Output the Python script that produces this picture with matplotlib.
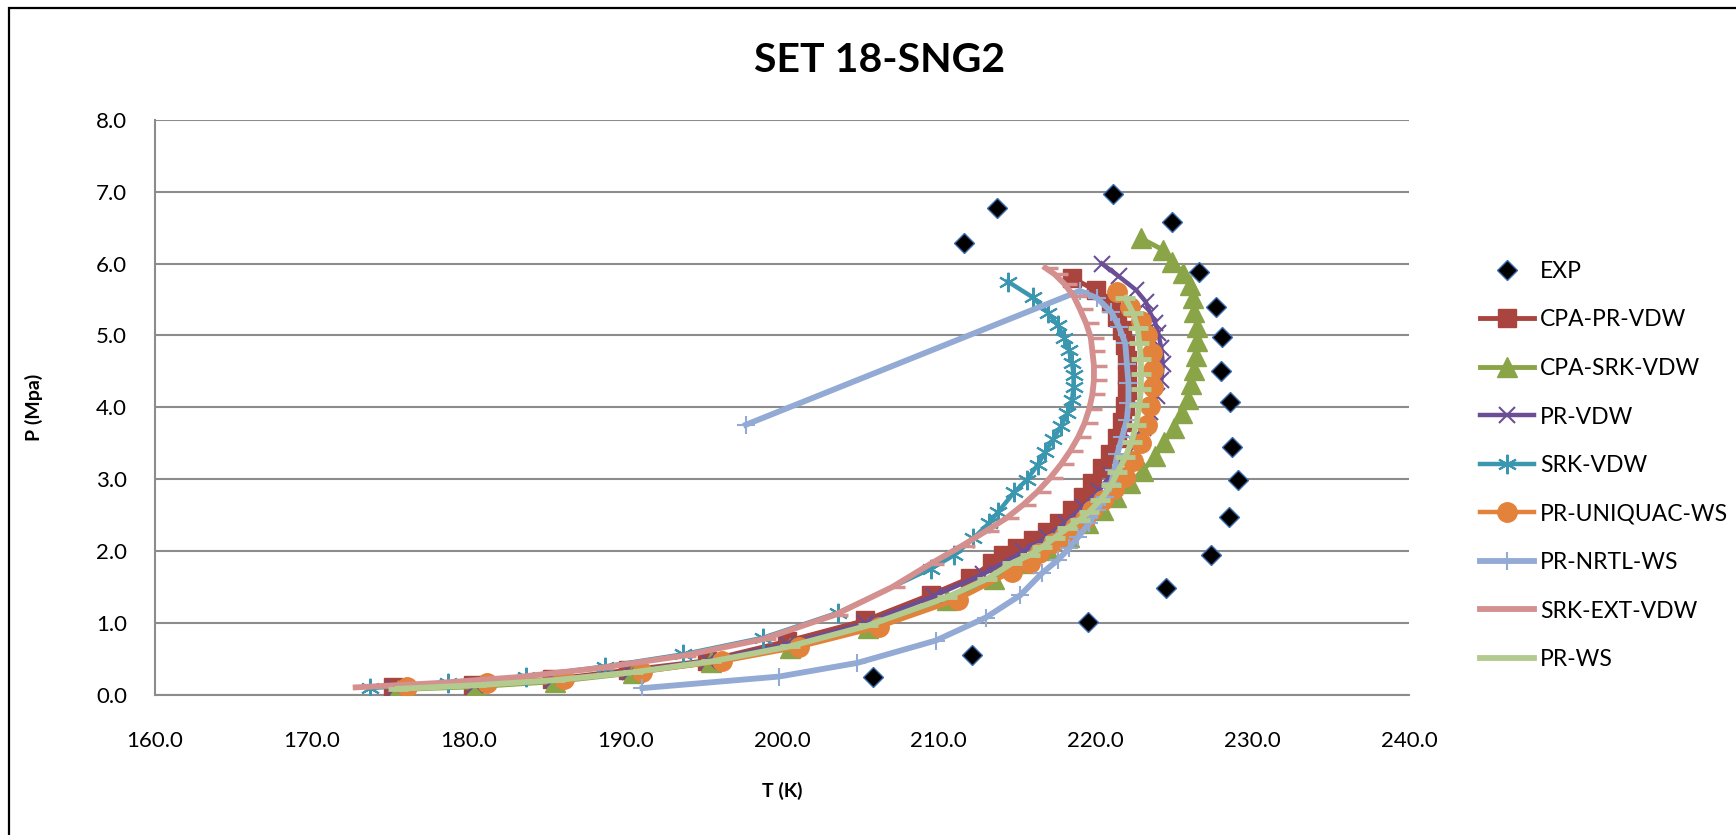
import matplotlib.pyplot as plt
from matplotlib.patches import Rectangle
from matplotlib.ticker import MultipleLocator, FormatStrFormatter

# --- DATA (T in K, P in MPa) ---
exp_T = [205.8, 212.1, 219.5, 224.5, 227.4, 228.5, 229.1, 228.7, 228.6, 228.0, 228.1, 227.7, 226.6, 224.9, 221.1, 213.7, 211.6]
exp_P = [0.25, 0.56, 1.02, 1.49, 1.95, 2.48, 2.99, 3.45, 4.07, 4.50, 4.98, 5.40, 5.88, 6.58, 6.97, 6.77, 6.28]

cpa_pr_T = [175.2, 180.3, 185.3, 190.2, 195.2, 200.3, 205.3, 209.5, 212.0, 213.4, 214.1, 215.0, 216.0, 216.9, 217.7,
            218.5, 219.2, 219.8, 220.4, 220.9, 221.4, 221.7, 221.9, 222.0, 222.0, 222.0, 221.9, 221.7, 221.4, 221.0,
            220.0, 218.5]
cpa_pr_P = [0.11, 0.15, 0.22, 0.35, 0.48, 0.75, 1.04, 1.40, 1.63, 1.84, 1.95, 2.05, 2.16, 2.27, 2.40,
            2.57, 2.76, 2.95, 3.16, 3.36, 3.58, 3.80, 4.02, 4.24, 4.45, 4.66, 4.87, 5.08, 5.26, 5.45,
            5.63, 5.80]

cpa_srk_T = [175.5, 180.5, 185.5, 190.5, 195.5, 200.5, 205.5, 210.5, 213.5, 215.5, 217.0, 218.3, 219.5, 220.5,
             221.3, 222.2, 223.0, 223.8, 224.4, 225.0, 225.5, 225.9, 226.1, 226.3, 226.4, 226.5, 226.5, 226.3,
             226.2, 226.0, 225.6, 224.9, 224.3, 222.9]
cpa_srk_P = [0.08, 0.12, 0.19, 0.31, 0.46, 0.66, 0.93, 1.32, 1.62, 1.84, 2.02, 2.20, 2.40, 2.58,
             2.76, 2.95, 3.12, 3.32, 3.52, 3.72, 3.92, 4.12, 4.32, 4.52, 4.72, 4.92, 5.12, 5.32,
             5.52, 5.70, 5.87, 6.02, 6.19, 6.35]

pr_vdw_T = [175.3, 180.4, 185.4, 190.3, 195.3, 200.3, 205.3, 209.7, 212.8, 215.4, 216.9, 218.1, 219.2, 220.2,
            221.0, 221.8, 222.5, 223.0, 223.5, 223.9, 224.2, 224.3, 224.2, 224.0, 223.8, 223.5, 223.2, 222.6,
            221.5, 220.4]
pr_vdw_P = [0.10, 0.14, 0.21, 0.33, 0.48, 0.71, 1.00, 1.38, 1.68, 2.00, 2.20, 2.40, 2.62, 2.84,
            3.06, 3.28, 3.50, 3.72, 3.94, 4.16, 4.38, 4.60, 4.82, 5.04, 5.18, 5.31, 5.47, 5.63,
            5.82, 6.00]

srk_vdw_T = [173.7, 178.7, 183.7, 188.7, 193.7, 198.8, 203.6, 209.5, 211.0, 212.2, 213.2, 213.8, 214.8, 215.6,
             216.3, 216.8, 217.3, 217.8, 218.2, 218.5, 218.6, 218.6, 218.5, 218.3, 218.0, 217.6, 217.0, 216.0,
             214.4]
srk_vdw_P = [0.10, 0.17, 0.26, 0.40, 0.57, 0.80, 1.15, 1.76, 1.95, 2.18, 2.39, 2.55, 2.82, 2.99,
             3.20, 3.38, 3.56, 3.74, 3.92, 4.10, 4.28, 4.45, 4.62, 4.80, 4.97, 5.14, 5.31, 5.53,
             5.75]

uniquac_T = [176.1, 181.2, 186.1, 191.1, 196.2, 201.1, 206.2, 211.2, 214.7, 215.8, 216.4, 217.3, 218.0, 218.7,
             219.3, 219.8, 220.5, 221.2, 221.9, 222.4, 222.9, 223.3, 223.5, 223.7, 223.7, 223.6, 223.3, 222.9,
             222.2, 221.4]
uniquac_P = [0.12, 0.17, 0.23, 0.33, 0.47, 0.67, 0.95, 1.33, 1.72, 1.84, 1.98, 2.12, 2.22, 2.34,
             2.45, 2.57, 2.71, 2.86, 3.04, 3.26, 3.50, 3.76, 4.02, 4.28, 4.52, 4.76, 5.00, 5.20,
             5.40, 5.60]

nrtl_T = [191.1, 199.8, 204.8, 209.8, 213.0, 215.2, 216.6, 217.6, 218.3, 218.9, 219.6, 220.1, 220.6, 221.0,
          221.2, 221.4, 221.7, 222.0, 222.1, 222.1, 222.0, 221.9, 221.5, 221.0, 220.1, 219.0, 197.7]
nrtl_P = [0.10, 0.26, 0.45, 0.76, 1.08, 1.39, 1.70, 1.88, 2.04, 2.20, 2.39, 2.57, 2.76, 2.95,
          3.13, 3.36, 3.59, 3.83, 4.06, 4.34, 4.61, 4.89, 5.12, 5.33, 5.52, 5.62, 3.76]

srk_ext_T = [172.8, 178.0, 183.0, 188.4, 193.7, 198.8, 203.4, 207.0, 209.5, 211.5, 213.0, 214.3, 215.4, 216.3,
             217.1, 217.8, 218.4, 218.9, 219.3, 219.6, 219.8, 219.9, 219.9, 219.8, 219.7, 219.4, 219.0, 218.6,
             218.0, 217.4, 216.8]
srk_ext_P = [0.11, 0.17, 0.25, 0.38, 0.55, 0.78, 1.12, 1.50, 1.83, 2.08, 2.28, 2.46, 2.65, 2.83,
             3.02, 3.21, 3.40, 3.59, 3.78, 3.98, 4.18, 4.38, 4.58, 4.78, 4.97, 5.17, 5.37, 5.55,
             5.72, 5.85, 5.94]

pr_ws_T = [175.5, 180.5, 185.5, 190.5, 195.5, 200.5, 205.5, 210.5, 213.1, 214.7, 215.8, 216.6, 217.4, 218.2,
           219.0, 219.6, 220.3, 221.0, 221.4, 221.9, 222.3, 222.6, 222.8, 222.9, 222.9, 222.9, 222.8, 222.7,
           222.4, 221.9]
pr_ws_P = [0.09, 0.14, 0.21, 0.32, 0.47, 0.68, 0.97, 1.36, 1.62, 1.84, 1.95, 2.06, 2.19, 2.32,
           2.44, 2.55, 2.71, 2.92, 3.10, 3.31, 3.52, 3.76, 4.03, 4.26, 4.47, 4.68, 4.89, 5.10,
           5.31, 5.52]

# --- FIGURE ---
W, H = 1736, 835
fig = plt.figure(figsize=(W / 100, H / 100), dpi=100)
plt.rcParams['font.family'] = ['Lato', 'DejaVu Sans']

ax = fig.add_axes([155 / W, 1 - 695.3 / H, (1409 - 155) / W, (695.3 - 119.6) / H])

# chart-area border (cropped at right and bottom)
fig.patches.append(Rectangle((9 / W, -0.1), 1.2, 1.1 - 8 / H, transform=fig.transFigure,
                             fill=False, edgecolor='black', linewidth=1.6))

# EXP
ax.plot(exp_T, exp_P, linestyle='none', marker='D', markersize=10, markerfacecolor='black',
        markeredgecolor='#3C6EB4', markeredgewidth=1.0, label='EXP', zorder=3)

ax.plot(cpa_pr_T, cpa_pr_P, color='#A9443F', linewidth=3.5, marker='s', markersize=13,
        label='CPA-PR-VDW', zorder=4)
ax.plot(cpa_srk_T, cpa_srk_P, color='#8AA548', linewidth=3.5, marker='^', markersize=14,
        label='CPA-SRK-VDW', zorder=5)
ax.plot(pr_vdw_T, pr_vdw_P, color='#6B4E96', linewidth=3.2, marker='x', markersize=11,
        markeredgewidth=1.5, label='PR-VDW', zorder=6)
ax.plot(srk_vdw_T, srk_vdw_P, color='#3B97B0', linewidth=3.2, marker=(6, 2, 0), markersize=14,
        markeredgewidth=1.5, label='SRK-VDW', zorder=7)
ax.plot(uniquac_T, uniquac_P, color='#E3823B', linewidth=3.2, marker='o', markersize=14,
        label='PR-UNIQUAC-WS', zorder=8)
ax.plot(nrtl_T, nrtl_P, color='#92AAD4', linewidth=4.2, marker='+', markersize=13,
        markeredgewidth=1.5, label='PR-NRTL-WS', zorder=9)

# SRK-EXT-VDW: line plus short right-hand ticks
ax.plot(srk_ext_T, srk_ext_P, color='#D4908E', linewidth=4.2, label='SRK-EXT-VDW', zorder=10)
ax.plot(srk_ext_T, srk_ext_P, linestyle='none', marker=1, markersize=9, markeredgewidth=2.5,
        color='#D4908E', zorder=10)

# PR-WS: line plus dash markers
ax.plot(pr_ws_T, pr_ws_P, color='#B3CB8E', linewidth=4.2, label='PR-WS', zorder=11)
ax.plot(pr_ws_T, pr_ws_P, linestyle='none', marker='_', markersize=14, markeredgewidth=3.5,
        color='#B3CB8E', zorder=11)

# --- AXES ---
ax.set_xlim(160, 240)
ax.set_ylim(0, 8)
ax.xaxis.set_major_locator(MultipleLocator(10))
ax.yaxis.set_major_locator(MultipleLocator(1))
ax.xaxis.set_major_formatter(FormatStrFormatter('%.1f'))
ax.yaxis.set_major_formatter(FormatStrFormatter('%.1f'))
ax.tick_params(length=0, labelsize=16)
ax.tick_params(axis='x', pad=26)
ax.tick_params(axis='y', pad=20)
ax.grid(axis='y', color='#8C8C8C', linewidth=1.5)
ax.set_axisbelow(True)
for side in ['top', 'right']:
    ax.spines[side].set_visible(False)
for side in ['left', 'bottom']:
    ax.spines[side].set_color('#8C8C8C')
    ax.spines[side].set_linewidth(1.5)

ax.set_xlabel('T (K)', fontsize=14, fontweight='bold', labelpad=22)
ax.set_ylabel('P (Mpa)', fontsize=14, fontweight='bold', labelpad=38)
fig.text(880 / W, 1 - 61 / H, 'SET 18-SNG2', fontsize=29.5, fontweight='bold',
         ha='center', va='center')

fig.legend(loc='upper left', bbox_to_anchor=(1480 / W, 1 - 261 / H), frameon=False,
           fontsize=16.5, handlelength=2.36, handletextpad=0.27, labelspacing=1.2,
           borderpad=0, borderaxespad=0)

fig.savefig('out.png', dpi=100)
